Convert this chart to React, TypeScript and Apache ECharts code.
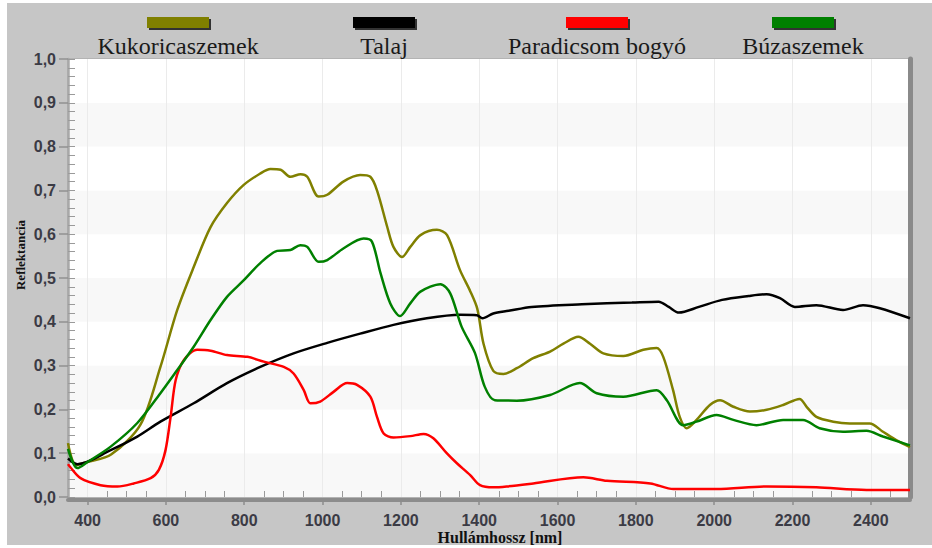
import React, { useEffect, useRef } from 'react';
import * as echarts from 'echarts';

const seriesNames = ['Kukoricaszemek', 'Talaj', 'Paradicsom bogyó', 'Búzaszemek'];
const seriesColors = ['#808000', '#000000', '#ff0000', '#008000'];

const kukoricaNm = [350, 370, 400, 460, 535, 586, 629, 671, 714, 756, 798, 840, 867, 893, 918, 944, 961, 990, 1012, 1053, 1096, 1122, 1139, 1165, 1181, 1203, 1224, 1250, 1292, 1318, 1351, 1377, 1395, 1411, 1436, 1462, 1496, 1538, 1581, 1615, 1653, 1683, 1717, 1768, 1819, 1853, 1870, 1895, 1912, 1930, 1955, 1989, 2015, 2049, 2091, 2134, 2176, 2218, 2236, 2261, 2304, 2346, 2397, 2431, 2465, 2500];
const kukoricaVal = [0.123, 0.073, 0.08, 0.097, 0.165, 0.297, 0.427, 0.525, 0.616, 0.671, 0.712, 0.738, 0.749, 0.747, 0.731, 0.737, 0.731, 0.686, 0.69, 0.72, 0.735, 0.731, 0.70, 0.617, 0.571, 0.548, 0.571, 0.598, 0.61, 0.598, 0.518, 0.47, 0.43, 0.35, 0.288, 0.281, 0.294, 0.317, 0.332, 0.35, 0.366, 0.35, 0.328, 0.322, 0.336, 0.34, 0.32, 0.244, 0.183, 0.157, 0.176, 0.21, 0.221, 0.206, 0.195, 0.199, 0.21, 0.224, 0.206, 0.183, 0.172, 0.168, 0.168, 0.149, 0.13, 0.114];

const talajNm = [350, 374, 459, 527, 586, 671, 756, 841, 926, 1012, 1096, 1181, 1266, 1351, 1394, 1408, 1436, 1475, 1534, 1662, 1790, 1858, 1884, 1910, 1961, 2020, 2088, 2134, 2168, 2206, 2261, 2329, 2380, 2423, 2500];
const talajVal = [0.088, 0.075, 0.107, 0.138, 0.172, 0.214, 0.26, 0.297, 0.328, 0.352, 0.373, 0.393, 0.408, 0.416, 0.415, 0.408, 0.419, 0.425, 0.434, 0.44, 0.444, 0.446, 0.434, 0.421, 0.434, 0.45, 0.459, 0.463, 0.454, 0.434, 0.438, 0.427, 0.438, 0.431, 0.408];

const paradicsomNm = [350, 355, 382, 433, 476, 518, 561, 582, 599, 612, 625, 646, 680, 714, 756, 808, 850, 901, 926, 952, 969, 994, 1028, 1063, 1088, 1122, 1139, 1156, 1181, 1224, 1258, 1283, 1317, 1343, 1377, 1402, 1436, 1470, 1538, 1666, 1726, 1837, 1896, 2006, 2134, 2261, 2389, 2500];
const paradicsomVal = [0.075, 0.069, 0.043, 0.027, 0.024, 0.031, 0.043, 0.062, 0.107, 0.183, 0.267, 0.313, 0.336, 0.334, 0.324, 0.32, 0.309, 0.297, 0.282, 0.244, 0.214, 0.218, 0.24, 0.26, 0.256, 0.229, 0.183, 0.145, 0.136, 0.139, 0.144, 0.134, 0.10, 0.077, 0.05, 0.027, 0.022, 0.024, 0.031, 0.045, 0.037, 0.031, 0.018, 0.018, 0.024, 0.022, 0.016, 0.016];

const buzaNm = [350, 374, 400, 459, 527, 586, 629, 671, 714, 756, 799, 841, 884, 918, 943, 961, 990, 1012, 1054, 1105, 1126, 1148, 1173, 1198, 1224, 1250, 1301, 1326, 1355, 1389, 1414, 1440, 1496, 1581, 1657, 1700, 1768, 1853, 1879, 1921, 1955, 2006, 2049, 2108, 2176, 2227, 2269, 2329, 2389, 2431, 2500];
const buzaVal = [0.11, 0.066, 0.08, 0.115, 0.169, 0.237, 0.29, 0.343, 0.404, 0.457, 0.495, 0.534, 0.562, 0.564, 0.575, 0.571, 0.537, 0.541, 0.568, 0.59, 0.583, 0.511, 0.442, 0.413, 0.442, 0.469, 0.486, 0.465, 0.389, 0.329, 0.252, 0.221, 0.22, 0.233, 0.26, 0.237, 0.229, 0.244, 0.221, 0.164, 0.172, 0.187, 0.176, 0.164, 0.176, 0.176, 0.157, 0.149, 0.151, 0.138, 0.118];

const xMajorTicks = [400, 600, 800, 1000, 1200, 1400, 1600, 1800, 2000, 2200, 2400];
const xMinorTicks = [450, 500, 550, 650, 700, 750, 850, 900, 950, 1050, 1100, 1150, 1250, 1300, 1350, 1450, 1500, 1550, 1650, 1700, 1750, 1850, 1900, 1950, 2050, 2100, 2150, 2250, 2300, 2350, 2450];

const seriesNmList = [kukoricaNm, talajNm, paradicsomNm, buzaNm];
const seriesValList = [kukoricaVal, talajVal, paradicsomVal, buzaVal];

const legendCenters = [171, 377, 590, 796];

export default function App() {
  const ref = useRef<HTMLDivElement>(null);
  useEffect(() => {
    if (!ref.current) return;
    const chart = echarts.init(ref.current, null, { renderer: 'svg' });
    const labelColor = '#3b3b45';
    const graphic: any[] = [];
    seriesNames.forEach((name, i) => {
      graphic.push({
        type: 'rect',
        left: legendCenters[i] - 31,
        top: 14,
        shape: { width: 62, height: 11 },
        style: { fill: seriesColors[i], shadowColor: '#333333', shadowOffsetX: 2, shadowOffsetY: 2, shadowBlur: 0 },
      });
      graphic.push({
        type: 'text',
        x: legendCenters[i],
        y: 43,
        style: {
          text: name,
          fontFamily: 'Liberation Serif',
          fontSize: 24,
          fill: '#1a1a1a',
          align: 'center',
          verticalAlign: 'middle',
        },
      });
    });
    graphic.push({
      type: 'text',
      x: 13,
      y: 252,
      rotation: Math.PI / 2,
      style: {
        text: 'Reflektancia',
        fontFamily: 'Liberation Serif',
        fontWeight: 'bold',
        fontSize: 13,
        fill: '#111',
        align: 'center',
        verticalAlign: 'middle',
      },
    });
    graphic.push({
      type: 'text',
      x: 493,
      y: 534,
      style: {
        text: 'Hullámhossz [nm]',
        fontFamily: 'Liberation Serif',
        fontWeight: 'bold',
        fontSize: 16,
        fill: '#111',
        align: 'center',
        verticalAlign: 'middle',
      },
    });

    const option: any = {
      animation: false,
      backgroundColor: '#c6c6c6',
      grid: {
        show: true,
        left: 61,
        right: 22,
        top: 56,
        bottom: 48,
        backgroundColor: '#ffffff',
        borderColor: '#a0a0a0',
        borderWidth: 1,
      },
      graphic,
      xAxis: [
        {
          type: 'value',
          min: 350,
          max: 2500,
          position: 'bottom',
          offset: 3,
          axisLine: { show: true, onZero: false, lineStyle: { color: '#8c8c8c', width: 4 } },
          axisTick: { show: true, customValues: xMajorTicks, length: 5, lineStyle: { color: '#8c8c8c', width: 1.5 } },
          axisLabel: {
            customValues: xMajorTicks,
            margin: 12,
            fontFamily: 'Liberation Sans',
            fontWeight: 'bold',
            fontSize: 16,
            color: labelColor,
            formatter: (v: number) => String(v),
          },
          splitLine: { show: true, lineStyle: { color: '#ebebeb', width: 1 } },
        },
        {
          type: 'value',
          min: 350,
          max: 2500,
          position: 'bottom',
          offset: 0,
          axisLine: { show: false, onZero: false },
          axisTick: { show: true, inside: true, customValues: xMinorTicks, length: 6, lineStyle: { color: '#9a9a9a', width: 1 } },
          axisLabel: { show: false },
          splitLine: { show: false },
        },
      ],
      yAxis: [
        {
          type: 'value',
          min: 0,
          max: 1,
          interval: 0.1,
          position: 'left',
          axisLine: { show: true, onZero: false, lineStyle: { color: '#a8a8a8', width: 2.5 } },
          axisTick: { show: true, length: 9, lineStyle: { color: '#909090', width: 1.5 } },
          axisLabel: {
            margin: 12,
            fontFamily: 'Liberation Sans',
            fontWeight: 'bold',
            fontSize: 16,
            color: labelColor,
            formatter: (v: number) => v.toFixed(1).replace('.', ','),
          },
          splitLine: { show: false },
          splitArea: { show: true, areaStyle: { color: ['#f8f8f8', '#ffffff'] } },
        },
        {
          type: 'value',
          min: 0,
          max: 1,
          interval: 0.02,
          position: 'left',
          axisLine: { show: false, onZero: false },
          axisTick: { show: true, inside: true, length: 7, lineStyle: { color: '#9a9a9a', width: 1 } },
          axisLabel: { show: false },
          splitLine: { show: false },
        },
        {
          type: 'value',
          min: 0,
          max: 1,
          position: 'right',
          axisLine: { show: true, onZero: false, lineStyle: { color: '#8a8a8a', width: 5 } },
          axisTick: { show: false },
          axisLabel: { show: false },
          splitLine: { show: false },
        },
      ],
      series: seriesNames.map((name, i) => ({
        name,
        type: 'line',
        xAxisIndex: 0,
        yAxisIndex: 0,
        showSymbol: false,
        smooth: 0.3,
        lineStyle: { color: seriesColors[i], width: 2.5 },
        itemStyle: { color: seriesColors[i] },
        data: seriesNmList[i].map((nm, k) => [nm, seriesValList[i][k]]),
      })),
    };
    chart.setOption(option);
    return () => chart.dispose();
  }, []);
  return (
    <div
      ref={ref}
      style={{ position: 'absolute', left: 7, top: 3, width: 925, height: 542 }}
    />
  );
}
